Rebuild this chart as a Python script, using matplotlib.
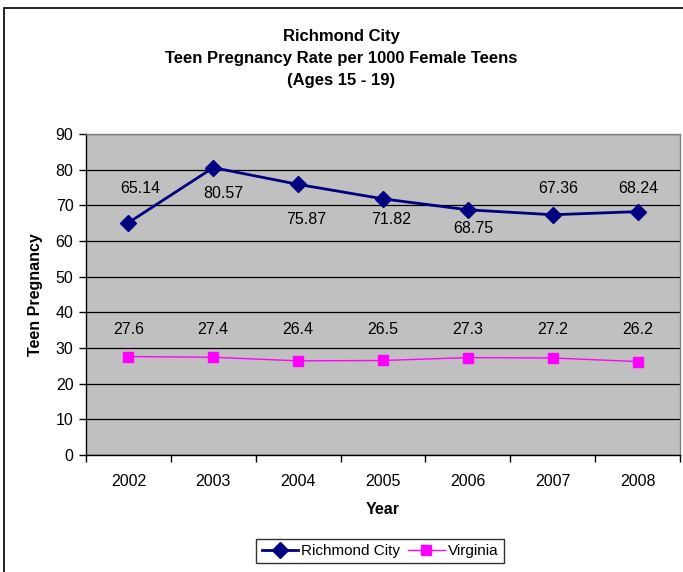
import matplotlib
matplotlib.use("Agg")
import matplotlib.pyplot as plt
from matplotlib.patches import Rectangle

years = ["2002", "2003", "2004", "2005", "2006", "2007", "2008"]
richmond = [65.14, 80.57, 75.87, 71.82, 68.75, 67.36, 68.24]
virginia = [27.6, 27.4, 26.4, 26.5, 27.3, 27.2, 26.2]
richmond_labels = ["65.14", "80.57", "75.87", "71.82", "68.75", "67.36", "68.24"]
virginia_labels = ["27.6", "27.4", "26.4", "26.5", "27.3", "27.2", "26.2"]
# label placement (layout only)
richmond_label_y = [74.6, 73.4, 66.0, 66.0, 63.5, 74.6, 74.6]
richmond_label_dx = [0.14, 0.12, 0.095, 0.10, 0.06, 0.06, 0.01]
virginia_label_y = [35.3] * 7

plt.rcParams['font.family'] = ['Liberation Sans', 'DejaVu Sans']

fig = plt.figure(figsize=(6.83, 5.72), dpi=100)
ax = fig.add_axes([86/683, 1-455/572, (680-86)/683, (455-134)/572])

x = list(range(len(years)))
ax.set_facecolor("#C0C0C0")
ax.set_xlim(-0.5, len(years) - 0.5)
ax.set_ylim(0, 90)
ax.set_yticks(range(0, 91, 10))
ax.yaxis.grid(True, color="black", linewidth=0.9)
ax.set_axisbelow(True)

ax.plot(x, richmond, color="#000080", marker="D", markersize=8, linewidth=2, label="Richmond City", zorder=3)
ax.plot(x, virginia, color="#FF00FF", marker="s", markersize=6.5, linewidth=1, label="Virginia", zorder=3)

for xi, dx, ly, t in zip(x, richmond_label_dx, richmond_label_y, richmond_labels):
    ax.text(xi + dx, ly, t, ha="center", va="center", fontsize=11.5, color="black", zorder=4)
for xi, ly, t in zip(x, virginia_label_y, virginia_labels):
    ax.text(xi, ly, t, ha="center", va="center", fontsize=11.5, color="black", zorder=4)

# category ticks at boundaries, labels centered
ax.set_xticks([i - 0.5 for i in range(len(years) + 1)], minor=False)
ax.set_xticklabels([""] * (len(years) + 1))
ax.set_xticks(x, minor=True)
ax.set_xticklabels(years, minor=True, fontsize=11.5)
ax.tick_params(axis="x", which="minor", length=0, pad=14)
ax.tick_params(axis="x", which="major", length=5, width=1, direction="out", color="black")
ax.tick_params(axis="y", length=5, width=1, direction="out", labelsize=11.5, pad=4)

for s in ["left", "bottom"]:
    ax.spines[s].set_color("black")
    ax.spines[s].set_linewidth(1)
for s in ["top", "right"]:
    ax.spines[s].set_color("#808080")
    ax.spines[s].set_linewidth(1)

ax.set_xlabel("Year", fontsize=11.5, fontweight="bold", labelpad=9)
ax.set_ylabel("Teen Pregnancy", fontsize=11.5, fontweight="bold", labelpad=9)

fig.text(0.5, 1-36/572, "Richmond City", ha="center", va="center", fontsize=12, fontweight="bold")
fig.text(0.5, 1-58/572, "Teen Pregnancy Rate per 1000 Female Teens", ha="center", va="center", fontsize=12, fontweight="bold")
fig.text(0.5, 1-80/572, "(Ages 15 - 19)", ha="center", va="center", fontsize=12, fontweight="bold")

leg = fig.legend(loc="center", bbox_to_anchor=(380/683, 1-551/572), ncol=2, frameon=True,
                 fancybox=False, edgecolor="black", fontsize=11, handlelength=2.4,
                 columnspacing=0.5, handletextpad=0.2, borderpad=0.35, borderaxespad=0)
leg.get_frame().set_linewidth(1)

fig.patches.append(Rectangle((4/683, -0.1), 1.2, 1-8/572 + 0.1, transform=fig.transFigure,
                             fill=False, edgecolor="black", linewidth=1.2))

fig.savefig("out.png", dpi=100)
